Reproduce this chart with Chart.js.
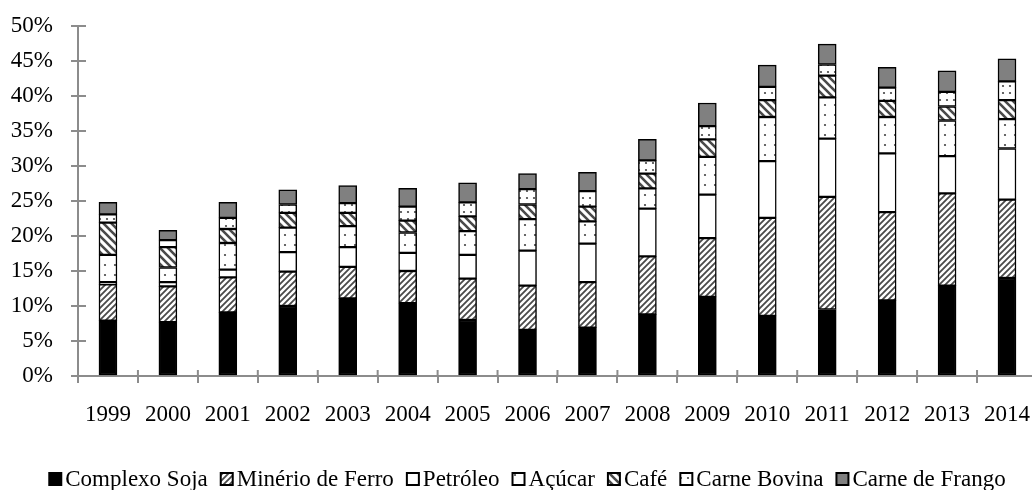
<!DOCTYPE html>
<html lang="pt">
<head>
<meta charset="UTF-8">
<title>Participação nas exportações</title>
<script src="https://cdn.jsdelivr.net/npm/chart.js"></script>
<style>
    html, body { margin: 0; padding: 0; overflow: hidden; background: #fff; }
    #wrap { width: 1048px; height: 490px; }
</style>
</head>
<body>
<div id="wrap"><canvas id="chart" width="1048" height="490"></canvas></div>
<script>
// dados (% do total exportado)
const years = ['1999', '2000', '2001', '2002', '2003', '2004', '2005', '2006',
               '2007', '2008', '2009', '2010', '2011', '2012', '2013', '2014'];
const soja     = [7.9, 7.7, 9.1, 10.0, 11.1, 10.4, 8.0, 6.6, 6.9, 8.8, 11.3, 8.6, 9.5, 10.8, 12.9, 14.0];
const minerio  = [5.2, 5.1, 5.0, 4.9, 4.5, 4.6, 5.9, 6.3, 6.5, 8.3, 8.4, 14.0, 16.1, 12.6, 13.2, 11.2];
const petroleo = [0.3, 0.6, 1.1, 2.8, 2.8, 2.6, 3.4, 5.0, 5.5, 6.8, 6.2, 8.1, 8.3, 8.4, 5.3, 7.3];
const acucar   = [3.9, 2.1, 3.8, 3.5, 3.0, 2.9, 3.4, 4.5, 3.2, 2.9, 5.4, 6.3, 5.9, 5.2, 5.1, 4.2];
const cafe     = [4.6, 2.9, 2.0, 2.1, 1.9, 1.7, 2.1, 2.1, 2.1, 2.1, 2.5, 2.4, 3.1, 2.3, 2.0, 2.7];
const bovina   = [1.2, 1.0, 1.6, 1.2, 1.4, 2.0, 2.0, 2.2, 2.2, 1.9, 1.9, 1.9, 1.6, 1.9, 2.1, 2.7];
const frango   = [1.7, 1.4, 2.2, 2.1, 2.5, 2.6, 2.8, 2.2, 2.7, 3.0, 3.3, 3.1, 2.9, 2.9, 3.0, 3.2];
const yTicks = [0, 5, 10, 15, 20, 25, 30, 35, 40, 45, 50];

const FONT = 'Liberation Serif, Times New Roman, serif';
const AXIS = '#8c8c8c';

// hachuras
function makePattern(size, draw) {
    const c = document.createElement('canvas');
    c.width = size; c.height = size;
    const g = c.getContext('2d');
    g.fillStyle = '#fff';
    g.fillRect(0, 0, size, size);
    draw(g, size);
    return document.createElement('canvas').getContext('2d').createPattern(c, 'repeat');
}

const hatchFwd = makePattern(6, (g, s) => {
    g.strokeStyle = '#4a4a4a';
    g.lineWidth = 1.8;
    g.beginPath();
    g.moveTo(0, s); g.lineTo(s, 0);
    g.moveTo(-s / 2, s / 2); g.lineTo(s / 2, -s / 2);
    g.moveTo(s / 2, s * 1.5); g.lineTo(s * 1.5, s / 2);
    g.stroke();
});

const hatchBack = makePattern(8, (g, s) => {
    g.strokeStyle = '#4a4a4a';
    g.lineWidth = 2.6;
    g.beginPath();
    g.moveTo(0, 0); g.lineTo(s, s);
    g.moveTo(-s / 2, s / 2); g.lineTo(s / 2, s * 1.5);
    g.moveTo(s / 2, -s / 2); g.lineTo(s * 1.5, s / 2);
    g.stroke();
});

const dotsSparse = makePattern(10, (g) => {
    g.fillStyle = '#444';
    g.beginPath(); g.arc(5, 5, 1.1, 0, Math.PI * 2); g.fill();
});

const dotsSmall = makePattern(7, (g) => {
    g.fillStyle = '#444';
    g.beginPath(); g.arc(2, 2, 1.1, 0, Math.PI * 2); g.fill();
});

function series(label, data, fill) {
    return {
        label: label,
        data: data,
        backgroundColor: fill,
        borderColor: '#000',
        borderWidth: 1.5,
        borderSkipped: false,
        barThickness: 18
    };
}

// legenda embaixo, caixa colada ao texto
const bottomLegend = {
    id: 'bottomLegend',
    afterDraw(chart) {
        const ctx = chart.ctx;
        const box = 14, gap = 3, space = 12, cy = 479, cx = 527;
        ctx.save();
        ctx.font = '23px ' + FONT;
        ctx.textBaseline = 'middle';
        const items = chart.data.datasets.map(ds => ({ ds: ds, w: ctx.measureText(ds.label).width }));
        const total = items.reduce((s, it) => s + box + gap + it.w, 0) + space * (items.length - 1);
        let x = cx - total / 2;
        items.forEach(it => {
            ctx.fillStyle = '#000';
            ctx.fillRect(x, cy - box / 2, box, box);
            ctx.fillStyle = it.ds.backgroundColor;
            ctx.fillRect(x + 2, cy - box / 2 + 2, box - 4, box - 4);
            x += box + gap;
            ctx.fillStyle = '#000';
            ctx.fillText(it.ds.label, x, cy + 1);
            x += it.w + space;
        });
        ctx.restore();
    }
};

// marcas de escala atravessando os eixos
const crossTicks = {
    id: 'crossTicks',
    afterDraw(chart) {
        const ctx = chart.ctx, a = chart.chartArea;
        const xs = chart.scales.x, ys = chart.scales.y;
        ctx.save();
        ctx.strokeStyle = AXIS;
        ctx.lineWidth = 2;
        ctx.beginPath();
        ys.ticks.forEach(t => {
            const y = ys.getPixelForValue(t.value);
            ctx.moveTo(a.left, y); ctx.lineTo(a.left + 8, y);
        });
        for (let i = 1; i < xs.ticks.length; i++) {
            const x = (xs.getPixelForTick(i - 1) + xs.getPixelForTick(i)) / 2;
            ctx.moveTo(x, a.bottom); ctx.lineTo(x, a.bottom - 6);
        }
        ctx.stroke();
        ctx.restore();
    }
};

new Chart(document.getElementById('chart').getContext('2d'), {
    type: 'bar',
    data: {
        labels: years,
        datasets: [
            series('Complexo Soja', soja, '#000'),
            series('Minério de Ferro', minerio, hatchFwd),
            series('Petróleo', petroleo, '#fff'),
            series('Açúcar', acucar, dotsSparse),
            series('Café', cafe, hatchBack),
            series('Carne Bovina', bovina, dotsSmall),
            series('Carne de Frango', frango, '#808080')
        ]
    },
    options: {
        responsive: false,
        animation: false,
        layout: { padding: { top: 26, right: 0, bottom: 54, left: 0 } },
        plugins: {
            legend: { display: false },
            tooltip: { enabled: false }
        },
        scales: {
            x: {
                stacked: true,
                grid: { drawOnChartArea: false, offset: true, tickLength: 7, color: AXIS, lineWidth: 2 },
                border: { color: AXIS, width: 2 },
                ticks: { color: '#000', font: { family: FONT, size: 23 }, padding: 18, maxRotation: 0, autoSkip: false },
                afterFit: s => { s.height = 60; }
            },
            y: {
                stacked: true,
                min: 0,
                max: 50,
                afterBuildTicks: s => { s.ticks = yTicks.map(v => ({ value: v })); },
                grid: { drawOnChartArea: false, tickLength: 7, color: AXIS, lineWidth: 2 },
                border: { color: AXIS, width: 2 },
                ticks: { color: '#000', font: { family: FONT, size: 23 }, padding: 18, callback: v => v + '%' },
                afterFit: s => { s.width = 78; s.paddingTop = 0; s.paddingBottom = 0; }
            }
        }
    },
    plugins: [bottomLegend, crossTicks]
});
</script>
</body>
</html>
